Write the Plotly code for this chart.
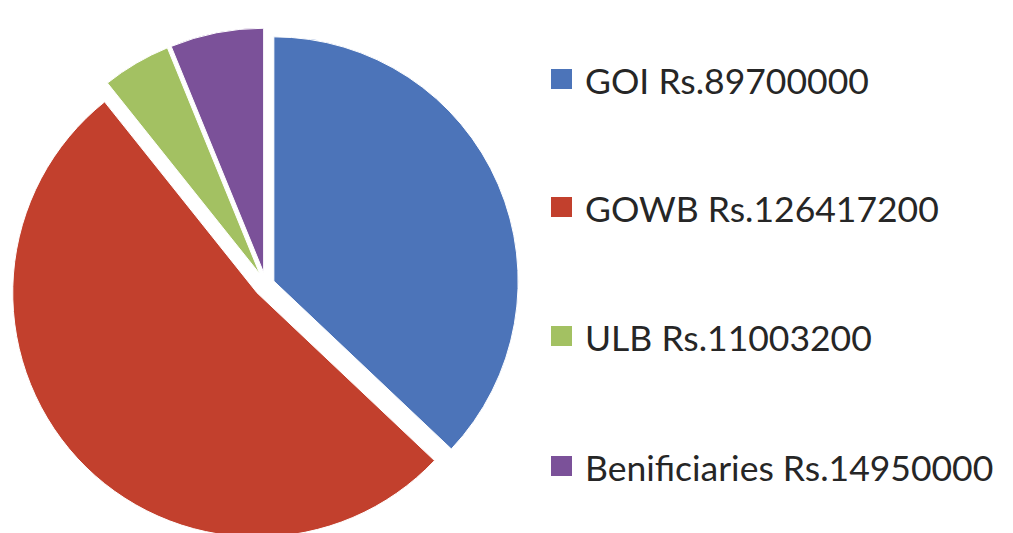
import plotly.graph_objects as go

labels = ["GOI", "GOWB", "ULB", "Benificiaries"]
values = [89700000, 126417200, 11003200, 14950000]
colors = ["#4C74B9", "#C2402D", "#A3C162", "#7B5199"]
pulls = [0.035, 0.05, 0.05, 0.05]

W, H = 1013, 533
MT = 20
PH = H - MT

def px_x(x):
    return x / W

def px_y(y):
    return 1 - (y - MT) / PH

cx = 258
half = PH / 2

fig = go.Figure()
fig.add_trace(go.Pie(
    labels=labels,
    values=values,
    sort=False,
    direction="clockwise",
    rotation=0,
    pull=pulls,
    marker=dict(colors=colors, line=dict(color="white", width=1)),
    textinfo="none",
    hoverinfo="label+value+percent",
    showlegend=False,
    domain=dict(x=[(cx - half) / W, (cx + half) / W], y=[0, 1]),
))

legend_y = [71, 199, 328, 458]
shapes = []
annotations = []
for lab, val, col, cy in zip(labels, values, colors, legend_y):
    shapes.append(dict(
        type="rect", xref="paper", yref="paper",
        x0=px_x(543), x1=px_x(564), y0=px_y(cy + 10), y1=px_y(cy - 10),
        fillcolor=col, line=dict(color=col, width=0),
    ))
    annotations.append(dict(
        text=f"{lab} Rs.{val}", xref="paper", yref="paper",
        x=px_x(575), y=px_y(cy + 1), xanchor="left", yanchor="middle",
        showarrow=False, font=dict(family="Lato", size=35.5, color="#262626"),
    ))

fig.update_layout(
    width=W, height=H,
    margin=dict(l=0, r=0, t=MT, b=0),
    paper_bgcolor="white", plot_bgcolor="white",
    shapes=shapes, annotations=annotations,
)

fig.write_html("out.html")
